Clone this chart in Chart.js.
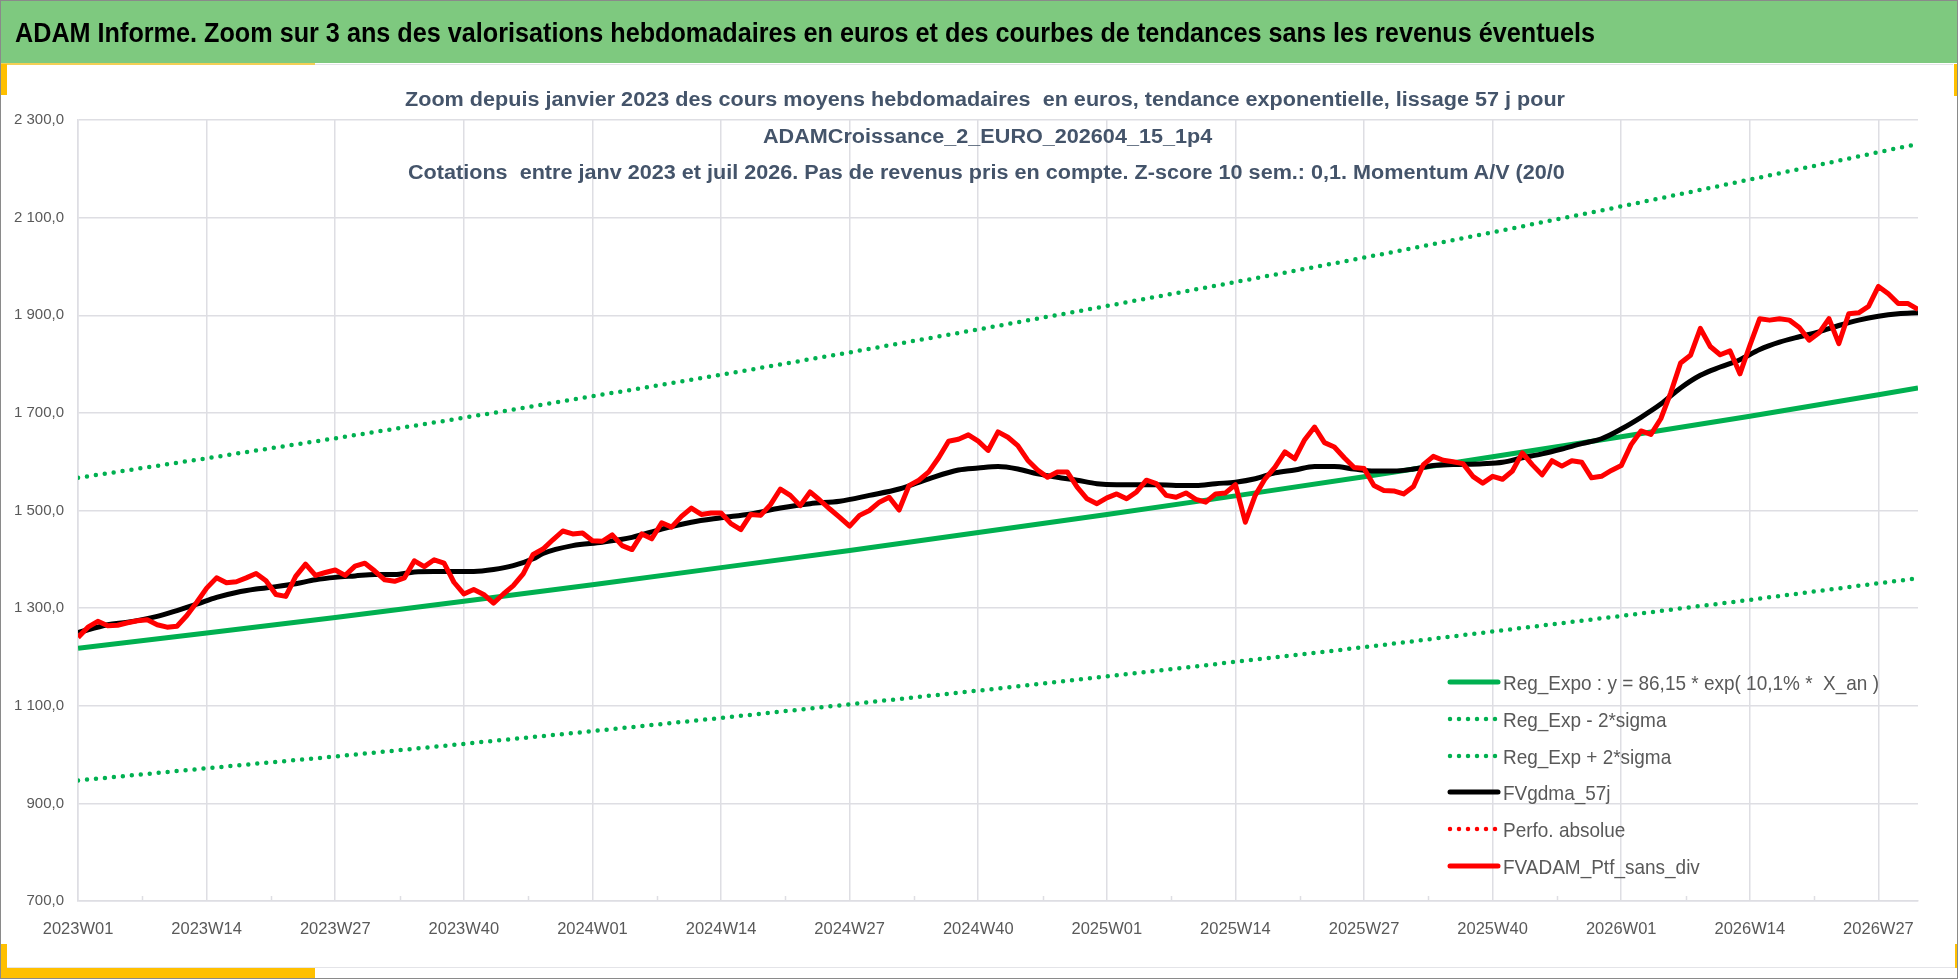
<!DOCTYPE html>
<html lang="fr">
<head>
<meta charset="utf-8">
<title>ADAM Informe</title>
<script src="https://cdn.jsdelivr.net/npm/chart.js@4.4.1/dist/chart.umd.min.js"></script>
<style>
  html, body { margin:0; padding:0; background:#ffffff; }
  #page { position:relative; width:1958px; height:979px; overflow:hidden; background:#ffffff; }
  .blk { position:absolute; }
  #band { left:0; top:0; width:1958px; height:63px; background:#7ec97f; z-index:1; }
  .yel { background:#ffc000; z-index:5; }
  .lg { background:#e4e4e8; z-index:1; }
  #chartBox { position:absolute; left:0; top:0; width:1958px; height:979px; z-index:2; }
  .txt { position:absolute; white-space:pre; line-height:1; z-index:3;
         font-family:'Liberation Sans',Arial,sans-serif; transform-origin:0 0; }
  #title { font-size:28px; font-weight:bold; color:#000000; }
  .sub { font-size:20px; font-weight:bold; color:#44546a; }
  .leg { font-size:21px; color:#595959; }
  .legline { position:absolute; z-index:3; }
  #frame { position:absolute; left:0; top:0; width:1956px; height:977px; border:1px solid #8a8a8a; z-index:6; pointer-events:none; }
</style>
</head>
<body>
<div id="page">
  <div id="band" class="blk"></div>
  <div class="blk lg" style="left:7px;top:64px;width:1946px;height:1px;"></div>
  <div class="blk lg" style="left:7px;top:967px;width:1948px;height:1px;"></div>
  <div class="blk yel" style="left:0;top:63px;width:315px;height:2px;background:#f3cf55;"></div>
  <div class="blk yel" style="left:0;top:64px;width:7px;height:31px;"></div>
  <div class="blk yel" style="left:1954px;top:64px;width:4px;height:32px;"></div>
  <div class="blk yel" style="left:0;top:944px;width:7px;height:35px;"></div>
  <div class="blk yel" style="left:0;top:968px;width:315px;height:11px;"></div>
  <div class="blk yel" style="left:1955px;top:944px;width:3px;height:24px;"></div>
  <div id="chartBox"><canvas id="c" width="1958" height="979"></canvas></div>
  <div id="title" class="txt">ADAM Informe. Zoom sur 3 ans des valorisations hebdomadaires en euros et des courbes de tendances sans les revenus éventuels</div>
  <div id="sub1" class="txt sub">Zoom depuis janvier 2023 des cours moyens hebdomadaires  en euros, tendance exponentielle, lissage 57 j pour</div>
  <div id="sub2" class="txt sub">ADAMCroissance_2_EURO_202604_15_1p4</div>
  <div id="sub3" class="txt sub">Cotations  entre janv 2023 et juil 2026. Pas de revenus pris en compte. Z-score 10 sem.: 0,1. Momentum A/V (20/0</div>
  <div id="legend"></div>
  <div id="frame"></div>
</div>
<script>
// ---------------- DATA ----------------
// week labels shown on the x axis (one every 13 weeks, starting at week index 0 = 2023W01)
const tickLabels = ["2023W01","2023W14","2023W27","2023W40","2024W01","2024W14","2024W27","2024W40",
                    "2025W01","2025W14","2025W27","2025W40","2026W01","2026W14","2026W27"];
const tickStep = 13;
const lastWeek = 186; // 2026W31

// FVADAM_Ptf_sans_div : weekly values, week index 0..186
const ptfValues = [1240,1261,1273,1264,1265,1270,1274,1276,1266,1261,
1263,1285,1312,1341,1362,1352,1354,1362,1371,1356,
1328,1324,1365,1390,1367,1373,1378,1367,1386,1392,
1376,1358,1355,1362,1397,1385,1399,1392,1353,1329,
1338,1328,1310,1329,1346,1370,1410,1421,1440,1458,
1452,1454,1438,1437,1450,1428,1420,1452,1442,1475,
1466,1488,1505,1492,1495,1495,1473,1461,1492,1490,
1512,1544,1531,1510,1538,1521,1503,1486,1468,1490,
1500,1517,1527,1501,1551,1562,1579,1608,1642,1646,
1655,1642,1623,1661,1650,1633,1603,1583,1568,1579,
1579,1548,1524,1514,1526,1534,1524,1538,1562,1555,
1531,1527,1536,1523,1517,1534,1536,1553,1476,1531,
1565,1589,1620,1606,1645,1671,1639,1630,1608,1588,
1586,1551,1541,1540,1534,1549,1594,1611,1603,1600,
1596,1570,1556,1570,1564,1581,1618,1594,1573,1602,
1591,1602,1599,1567,1570,1582,1592,1635,1663,1656,
1688,1741,1802,1818,1873,1836,1819,1827,1780,1838,
1893,1890,1893,1890,1875,1849,1864,1893,1842,1903,
1905,1918,1959,1944,1924,1924,1912];

// FVgdma_57j : smoothed curve, read at these week indices
const gdmaWeeks = [0,3,5,8,10,12,14,16,18,20,22,24,26,28,30,32,34,36,38,40,
42,44,46,47,50,53,56,59,62,65,68,71,74,77,80,83,86,89,91,93,
95,97,99,101,103,105,107,109,111,113,115,117,119,121,123,125,127,129,131,133,
135,137,139,142,144,146,148,150,152,154,156,158,160,162,164,166,168,170,172,174,
176,178,180,182,184,186];
const gdmaValues = [1250,1266,1271,1283,1295,1308,1322,1332,1339,1344,1350,1358,1363,1366,1369,1369,1374,1375,1375,1375,
1379,1387,1401,1412,1428,1435,1445,1462,1476,1485,1493,1505,1514,1519,1531,1544,1565,1583,1587,1590,
1585,1575,1568,1562,1555,1553,1553,1553,1551,1551,1555,1558,1565,1577,1583,1590,1590,1585,1581,1581,
1585,1592,1594,1596,1599,1608,1616,1626,1637,1647,1667,1691,1718,1751,1777,1794,1809,1830,1845,1856,
1866,1879,1890,1898,1903,1905];

// Regression curves, read at these week indices
const regWeeks     = [0,13,26,39,52,65,78,91,104,117,130,143,156,169,182,186];
const regValues    = [1218,1249,1281,1314,1348,1383,1418,1455,1492,1530,1569,1610,1651,1693,1737,1751];
const regLowValues = [947,972,996,1022,1048,1075,1103,1131,1160,1190,1220,1252,1284,1317,1351,1361];
const regHighValues= [1567,1607,1648,1690,1734,1778,1824,1871,1919,1968,2018,2070,2123,2178,2234,2251];
const perfoValues  = []; // "Perfo. absolue" : no visible values

const seriesLabels = ["Reg_Expo : y = 86,15 * exp( 10,1% *  X_an )","Reg_Exp - 2*sigma","Reg_Exp + 2*sigma",
                      "FVgdma_57j","Perfo. absolue","FVADAM_Ptf_sans_div"];

// ---------------- CHART ----------------
const FONT = "'Liberation Sans',Arial,sans-serif";
const GRID = '#dedee3';
const GREEN = '#00b050', RED = '#ff0000', BLACK = '#000000';

const pts = (xs, ys) => ys.map((v, i) => ({x: xs[i], y: v}));
const ptfPts = ptfValues.map((v, i) => ({x: i, y: v}));

function frNum(v) {
  const s = Number(v).toFixed(1).split('.');
  return s[0].replace(/\B(?=(\d{3})+(?!\d))/g, ' ') + ',' + s[1];
}

const minorTicks = {
  id: 'minorTicks',
  beforeDatasetsDraw(chart) {
    const xs = chart.scales.x, y0 = chart.chartArea.bottom, c = chart.ctx;
    c.save(); c.strokeStyle = GRID; c.lineWidth = 1.5;
    for (let v = tickStep / 2; v < xs.max; v += tickStep) {
      const px = Math.round(xs.getPixelForValue(v)) + 0.5;
      c.beginPath(); c.moveTo(px, y0); c.lineTo(px, y0 - 5); c.stroke();
    }
    c.restore();
  }
};

const dotted = { borderDash: [0, 9], borderCapStyle: 'round', borderWidth: 4.5 };
const cfg = {
  type: 'line',
  data: {
    datasets: [
      { label: seriesLabels[0], data: pts(regWeeks, regValues), borderColor: GREEN, backgroundColor: GREEN, borderWidth: 5, order: 3 },
      Object.assign({ label: seriesLabels[1], data: pts(regWeeks, regLowValues), borderColor: GREEN, backgroundColor: GREEN, order: 3 }, dotted),
      Object.assign({ label: seriesLabels[2], data: pts(regWeeks, regHighValues), borderColor: GREEN, backgroundColor: GREEN, order: 3 }, dotted),
      { label: seriesLabels[3], data: pts(gdmaWeeks, gdmaValues), borderColor: BLACK, backgroundColor: BLACK, borderWidth: 5, cubicInterpolationMode: 'monotone', order: 2 },
      Object.assign({ label: seriesLabels[4], data: perfoValues, borderColor: RED, backgroundColor: RED, order: 1 }, dotted),
      { label: seriesLabels[5], data: ptfPts, borderColor: RED, backgroundColor: RED, borderWidth: 5, borderJoinStyle: 'round', order: 0 }
    ]
  },
  options: {
    responsive: false,
    animation: false,
    devicePixelRatio: 1,
    elements: { point: { radius: 0, hoverRadius: 0 }, line: { tension: 0 } },
    layout: { padding: { left: 0, right: 40, top: 110, bottom: 0 } },
    plugins: { legend: { display: false }, title: { display: false }, tooltip: { enabled: false } },
    scales: {
      x: {
        type: 'linear', min: 0, max: lastWeek,
        afterBuildTicks(s) { s.ticks = tickLabels.map((_, i) => ({ value: i * tickStep })); },
        ticks: { autoSkip: false, maxRotation: 0, color: '#595959',
                 font: { family: FONT, size: 16.5 }, padding: 19,
                 callback: (v) => tickLabels[Math.round(v / tickStep)] || '' },
        grid: { color: GRID, lineWidth: 1.5, drawTicks: false },
        border: { color: GRID, width: 1.5 }
      },
      y: {
        min: 700, max: 2300,
        ticks: { stepSize: 200, color: '#595959', font: { family: FONT, size: 15 }, padding: 14,
                 callback: (v) => frNum(v) },
        grid: { color: GRID, lineWidth: 1.5, drawTicks: false },
        border: { color: GRID, width: 1.5 }
      }
    }
  },
  plugins: [minorTicks]
};

const chart = new Chart(document.getElementById('c'), cfg);

// fit the plot area to the reference frame
const target = { left: 73.3, top: 120, right: 1918, bottom: 901 };
for (let k = 0; k < 3; k++) {
  const a = chart.chartArea, p = cfg.options.layout.padding;
  p.left = Math.max(0, p.left + target.left - a.left);
  p.top = p.top + target.top - a.top;
  p.right = p.right + a.right - target.right;
  p.bottom = Math.max(0, p.bottom + a.bottom - target.bottom);
  chart.update();
}

// ---------------- HTML TEXT (titles, legend) ----------------
const BASE = 0.8465; // baseline offset (line-height:1)
function natW(el) { el.style.transform = 'none'; return el.getBoundingClientRect().width; }
function placeLeft(el, x, baseline, k) {
  const fs = parseFloat(getComputedStyle(el).fontSize);
  el.style.left = x + 'px'; el.style.top = (baseline - BASE * fs) + 'px';
  el.style.transform = 'scaleX(' + k + ')';
}
function placeCenter(el, cx, baseline, k) {
  const fs = parseFloat(getComputedStyle(el).fontSize);
  const w = natW(el);
  el.style.left = (cx - w * k / 2) + 'px'; el.style.top = (baseline - BASE * fs) + 'px';
  el.style.transform = 'scaleX(' + k + ')';
}

const title = document.getElementById('title');
placeLeft(title, 15, 43, 1580 / natW(title));

const s1 = document.getElementById('sub1'), s2 = document.getElementById('sub2'), s3 = document.getElementById('sub3');
const kSub = 1160 / natW(s1);
placeCenter(s1, 985, 106, kSub);
placeCenter(s2, 988, 142.5, kSub);
placeCenter(s3, 986, 179, kSub);

// legend built from the chart datasets
const legend = document.getElementById('legend');
const legY0 = 682, legDY = 36.8, legX = 1450, legLineW = 48, legTextX = 1503;
let kLeg = 1;
chart.data.datasets.forEach((ds, i) => {
  const cy = legY0 + i * legDY;
  const svgNS = 'http://www.w3.org/2000/svg';
  const svg = document.createElementNS(svgNS, 'svg');
  svg.setAttribute('class', 'legline');
  svg.setAttribute('width', legLineW + 6); svg.setAttribute('height', 12);
  svg.style.left = (legX - 3) + 'px'; svg.style.top = (cy - 6) + 'px';
  const ln = document.createElementNS(svgNS, 'line');
  ln.setAttribute('x1', 3); ln.setAttribute('x2', 3 + legLineW); ln.setAttribute('y1', 6); ln.setAttribute('y2', 6);
  ln.setAttribute('stroke', ds.borderColor);
  ln.setAttribute('stroke-width', ds.borderDash ? 4.5 : 5);
  ln.setAttribute('stroke-linecap', 'round');
  if (ds.borderDash) ln.setAttribute('stroke-dasharray', ds.borderDash.join(' '));
  svg.appendChild(ln);
  legend.appendChild(svg);
  const t = document.createElement('div');
  t.className = 'txt leg'; t.textContent = ds.label;
  legend.appendChild(t);
  if (i === 0) kLeg = 376 / natW(t);
  placeLeft(t, legTextX, cy + 7.7, kLeg);
});
</script>
</body>
</html>
